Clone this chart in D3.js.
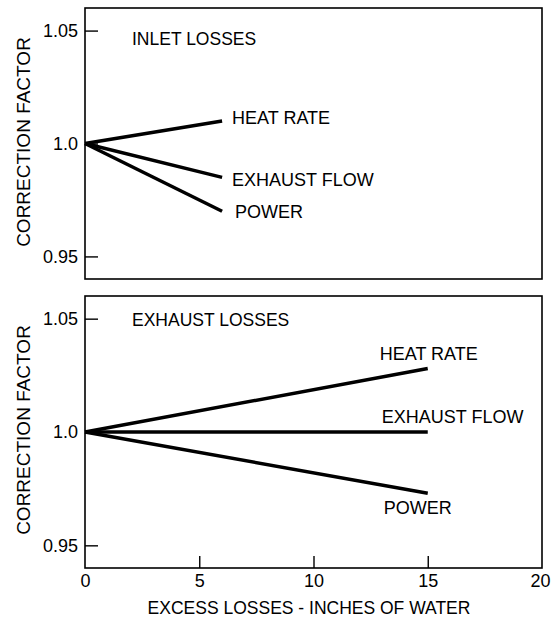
<!DOCTYPE html>
<html>
<head>
<meta charset="utf-8">
<script src="https://cdn.jsdelivr.net/npm/d3@7"></script>
<style>
  body { margin: 0; background: #fff; }
  svg text { font-family: "Liberation Sans", Arial, Helvetica, sans-serif; fill: #000; }
</style>
</head>
<body>
<div id="chart"></div>
<script>
// excess loss (inches of water) at start and end of each line
var inletX = [0, 6];
var exhaustX = [0, 15];

// correction factors
var inletHeatRate = [1.0, 1.010];
var inletExhaustFlow = [1.0, 0.985];
var inletPower = [1.0, 0.970];

var exhaustHeatRate = [1.0, 1.028];
var exhaustExhaustFlow = [1.0, 1.0];
var exhaustPower = [1.0, 0.973];

var seriesNames = ["HEAT RATE", "EXHAUST FLOW", "POWER"];
var panelTitles = ["INLET LOSSES", "EXHAUST LOSSES"];
var yTicks = [0.95, 1.0, 1.05];
var yTickLabels = ["0.95", "1.0", "1.05"];
var xTicks = [0, 5, 10, 15, 20];

var width = 551, height = 629;
var svg = d3.select("#chart").append("svg")
  .attr("width", width)
  .attr("height", height);

var x = d3.scaleLinear().domain([0, 20]).range([85, 542]);

// label offsets from the end of each line (per panel)
var panels = [
  {
    title: panelTitles[0],
    top: 8, bottom: 279,
    xs: inletX,
    series: [inletHeatRate, inletExhaustFlow, inletPower],
    offsets: [[10, 3], [10, 9], [13, 7]],
    titleY: 45,
    axisTitleY: 142,
    showX: false
  },
  {
    title: panelTitles[1],
    top: 296, bottom: 568,
    xs: exhaustX,
    series: [exhaustHeatRate, exhaustExhaustFlow, exhaustPower],
    offsets: [[-48, -9], [-46, -9], [-44, 21]],
    titleY: 326,
    axisTitleY: 430,
    showX: true
  }
];

panels.forEach(function (p) {
  var y = d3.scaleLinear().domain([0.94, 1.06]).range([p.bottom, p.top]);
  var g = svg.append("g");

  // frame
  g.append("rect")
    .attr("x", x(0))
    .attr("y", p.top)
    .attr("width", x(20) - x(0))
    .attr("height", p.bottom - p.top)
    .attr("fill", "none")
    .attr("stroke", "#000")
    .attr("stroke-width", 1.6);

  // y axis, ticks pointing inward
  var yAxis = d3.axisRight(y)
    .tickValues(yTicks)
    .tickSize(13)
    .tickFormat(function (d, i) { return yTickLabels[i]; });
  var ya = g.append("g")
    .attr("transform", "translate(" + x(0) + ",0)")
    .call(yAxis);
  ya.select(".domain").remove();
  ya.selectAll("line").attr("stroke-width", 1.4);
  ya.selectAll("text")
    .attr("x", -7)
    .attr("text-anchor", "end")
    .style("font-size", "18px")
    .style("font-family", "'Liberation Sans', Arial, sans-serif");

  if (p.showX) {
    var xAxis = d3.axisTop(x).tickValues(xTicks).tickSize(12);
    var xa = g.append("g")
      .attr("transform", "translate(0," + p.bottom + ")")
      .call(xAxis);
    xa.select(".domain").remove();
    xa.selectAll("line").attr("stroke-width", 1.4)
      .filter(function (d) { return d === 0 || d === 20; }).remove();
    xa.selectAll("text")
      .attr("y", 19)
      .attr("dy", "0")
      .style("font-size", "18px")
      .style("font-family", "'Liberation Sans', Arial, sans-serif");
    // keep the last label inside the page
    xa.selectAll("text")
      .filter(function (d) { return d === 20; })
      .attr("text-anchor", "end")
      .attr("x", 8);
  }

  // y axis title
  g.append("text")
    .attr("transform", "translate(30," + p.axisTitleY + ") rotate(-90)")
    .attr("text-anchor", "middle")
    .style("font-size", "19px")
    .text("CORRECTION FACTOR");

  // panel title
  g.append("text")
    .attr("x", 132)
    .attr("y", p.titleY)
    .style("font-size", "17.5px")
    .text(p.title);

  var line = d3.line()
    .x(function (d, i) { return x(p.xs[i]); })
    .y(function (d) { return y(d); });

  p.series.forEach(function (s, k) {
    g.append("path")
      .datum(s)
      .attr("d", line)
      .attr("fill", "none")
      .attr("stroke", "#000")
      .attr("stroke-width", 3.5);

    var last = s.length - 1;
    g.append("text")
      .attr("x", x(p.xs[last]) + p.offsets[k][0])
      .attr("y", y(s[last]) + p.offsets[k][1])
      .style("font-size", "18px")
      .text(seriesNames[k]);
  });
});

// x axis title
svg.append("text")
  .attr("x", 309)
  .attr("y", 614)
  .attr("text-anchor", "middle")
  .style("font-size", "17.5px")
  .text("EXCESS LOSSES - INCHES OF WATER");
</script>
</body>
</html>
